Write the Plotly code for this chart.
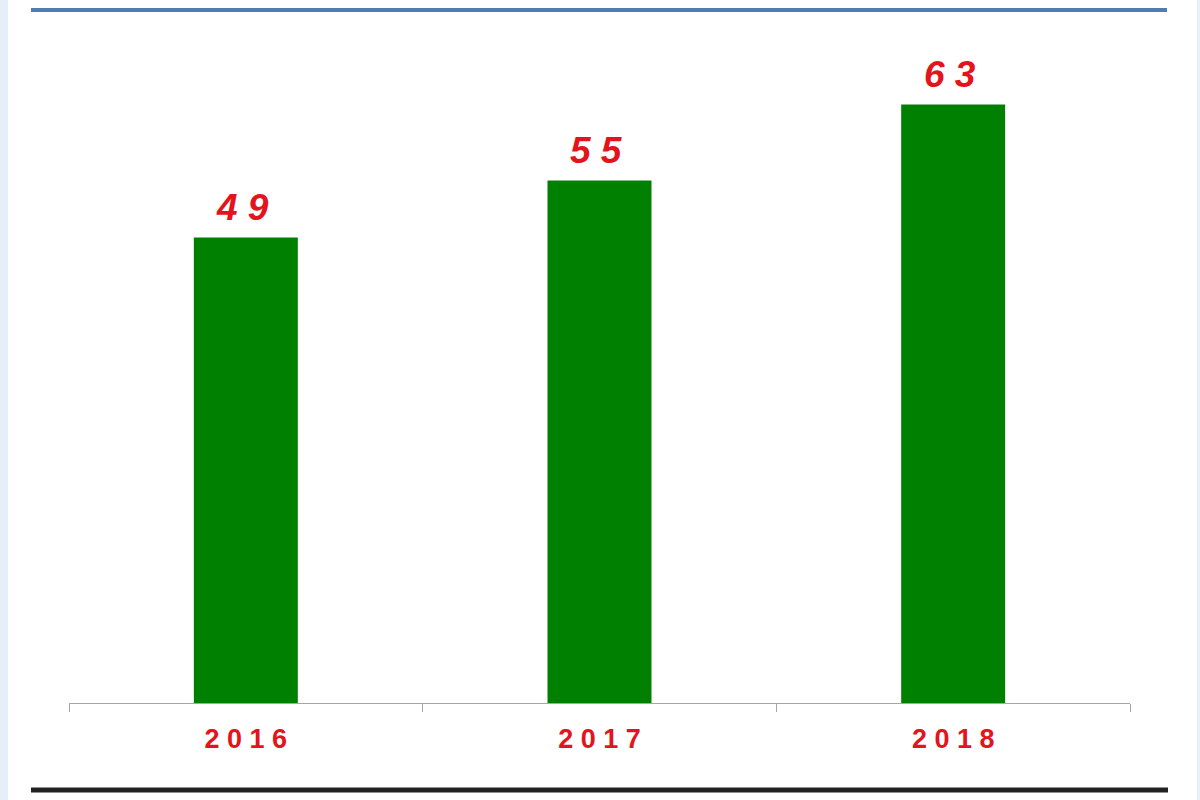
import plotly.graph_objects as go

# data
years = ["2016", "2017", "2018"]
values = [49, 55, 63]

W, H = 1200, 800
L, R, T, B = 69, 70, 38, 97   # plot area margins in px

def px_x(p):
    return (p - L) / (W - L - R)

def px_y(p):
    return (H - B - p) / (H - T - B)

red = "#e3141b"
green = "#008000"

fig = go.Figure()
fig.add_trace(go.Bar(
    x=years,
    y=values,
    marker=dict(color=green, line=dict(width=0)),
    hoverinfo="skip",
))

# value labels above bars (x given as category index)
for i, v in enumerate(values):
    fig.add_annotation(
        x=i, y=v, text="<b><i>" + "\u00a0".join(str(v)) + "</i></b>",
        showarrow=False, yanchor="bottom", yshift=8, xshift=-3,
        font=dict(family="Liberation Sans, Arial", size=37, color=red),
    )

shapes = [
    # top blue rule
    dict(type="line", xref="paper", yref="paper",
         x0=px_x(31), x1=px_x(1167), y0=px_y(10), y1=px_y(10),
         line=dict(color="#4f7db3", width=4)),
    # bottom dark rule
    dict(type="line", xref="paper", yref="paper",
         x0=px_x(31), x1=px_x(1168), y0=px_y(790), y1=px_y(790),
         line=dict(color="#222222", width=5)),
    # faint side borders
    dict(type="rect", xref="paper", yref="paper",
         x0=px_x(0), x1=px_x(8), y0=px_y(800), y1=px_y(0),
         fillcolor="#e6eef8", line=dict(width=0), layer="below"),
    dict(type="rect", xref="paper", yref="paper",
         x0=px_x(1197), x1=px_x(1200), y0=px_y(800), y1=px_y(0),
         fillcolor="#eaf0f8", line=dict(width=0), layer="below"),
]

fig.update_layout(
    width=W, height=H,
    margin=dict(l=L, r=R, t=T, b=B, autoexpand=False),
    paper_bgcolor="white", plot_bgcolor="white",
    bargap=0.706,
    showlegend=False,
    shapes=shapes,
    xaxis=dict(
        type="category",
        range=[-0.5, len(years) - 0.5],
        tickmode="array", tickvals=years,
        ticktext=["<b>" + "\u00a0".join(y) + "</b>" for y in years],
        tickfont=dict(family="Liberation Sans, Arial", size=27, color=red),
        tickangle=0,
        showline=True, linecolor="#a6a6a6", linewidth=1,
        ticks="outside", tickson="boundaries", ticklen=8, tickcolor="#a6a6a6",
        ticklabelstandoff=12,
        showgrid=False, zeroline=False, fixedrange=True,
    ),
    yaxis=dict(
        range=[0, 70], visible=False, showgrid=False, zeroline=False, fixedrange=True,
    ),
)

fig.write_html("out.html", config={"displayModeBar": False},
               post_script="document.body.style.margin='0';")
